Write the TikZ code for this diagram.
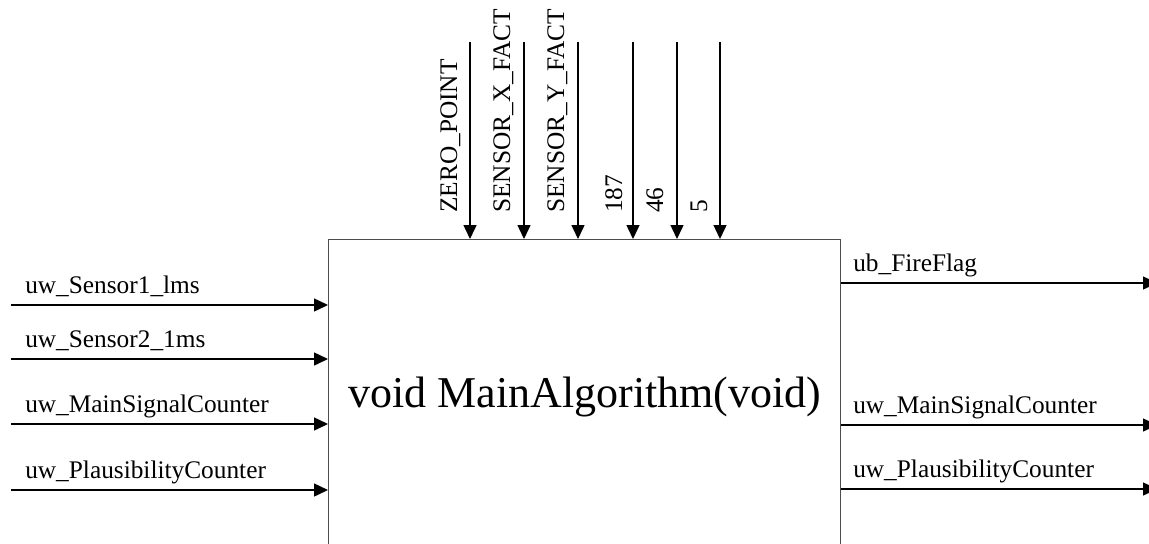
\documentclass[tikz,border=0pt]{standalone}
\usepackage{fontspec}
\setmainfont{Liberation Serif}
\usetikzlibrary{arrows.meta}
\begin{document}
\begin{tikzpicture}[x=0.75pt,y=-0.75pt,
  conn/.style={line width=1.1pt,-{Triangle[length=10.5pt,width=9.75pt]}},
  lbl/.style={inner sep=0pt,font=\fontsize{19pt}{21pt}\selectfont,anchor=base west},
  vlbl/.style={inner sep=0pt,font=\fontsize{19pt}{21pt}\selectfont,anchor=base west,rotate=90},
  blk/.style={draw=black!70,line width=1.1pt,minimum width=384pt,minimum height=300pt,anchor=north west,inner sep=0pt}]
\clip (0,0) rectangle (1149,543);
\fill[white] (0,0) rectangle (1149,543);
\node[blk] (box) at (328,239) {};
\node[inner sep=0pt,anchor=base,font=\fontsize{33pt}{36pt}\selectfont] (title) at (585,407) {void MainAlgorithm(void)};
% inputs left
\coordinate (i1) at (11,305);
\coordinate (i2) at (11,359);
\coordinate (i3) at (11,424);
\coordinate (i4) at (11,490);
\draw[conn] (i1) -- (i1 -| box.west);
\draw[conn] (i2) -- (i2 -| box.west);
\draw[conn] (i3) -- (i3 -| box.west);
\draw[conn] (i4) -- (i4 -| box.west);
\node[lbl] (li1) at (25,293) {uw\_Sensor1\_lms};
\node[lbl] (li2) at (25,347) {uw\_Sensor2\_1ms};
\node[lbl] (li3) at (25,412) {uw\_MainSignalCounter};
\node[lbl] (li4) at (25,478) {uw\_PlausibilityCounter};
% outputs right
\coordinate (o1) at (1157,283);
\coordinate (o2) at (1157,425);
\coordinate (o3) at (1157,489);
\draw[conn] (o1 -| box.east) -- (o1);
\draw[conn] (o2 -| box.east) -- (o2);
\draw[conn] (o3 -| box.east) -- (o3);
\node[lbl] (lo1) at (853,271) {ub\_FireFlag};
\node[lbl] (lo2) at (853,413) {uw\_MainSignalCounter};
\node[lbl] (lo3) at (853,477) {uw\_PlausibilityCounter};
% top inputs
\coordinate (t1) at (470,42);
\coordinate (t2) at (524,42);
\coordinate (t3) at (578,42);
\coordinate (t4) at (633,42);
\coordinate (t5) at (677,42);
\coordinate (t6) at (720,42);
\foreach \t in {t1,t2,t3,t4,t5,t6} \draw[conn] (\t) -- (\t |- box.north);
\node[vlbl] (lt1) at (457,213) {ZERO\_POINT};
\node[vlbl] (lt2) at (510,213) {SENSOR\_X\_FACT};
\node[vlbl] (lt3) at (564,213) {SENSOR\_Y\_FACT};
\node[vlbl] (lt4) at (622,213) {187};
\node[vlbl] (lt5) at (663,213) {46};
\node[vlbl] (lt6) at (707,213) {5};
\end{tikzpicture}
\end{document}
